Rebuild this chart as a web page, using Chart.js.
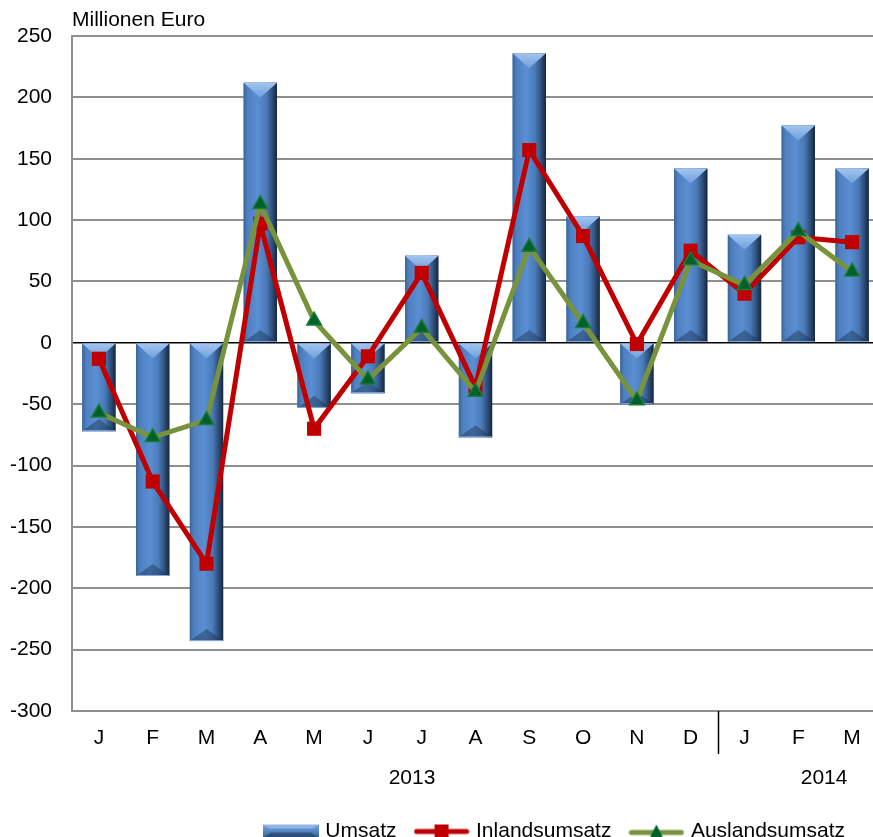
<!DOCTYPE html>
<html><head><meta charset="utf-8">
<script src="https://cdn.jsdelivr.net/npm/chart.js@4.4.1/dist/chart.umd.min.js"></script>
<style>html,body{margin:0;padding:0;background:#fff;overflow:hidden}#wrap{width:889px;height:837px;position:relative}</style>
</head><body><div id="wrap"><canvas id="c"></canvas></div>
<script>
const months = ['J','F','M','A','M','J','J','A','S','O','N','D','J','F','M'];
const years = ['2013','2014'];
const umsatz  = [-72,-190,-243,212,-53,-41,71,-77,236,103,-50,142,88,177,142];
const inland  = [-13,-113,-180,97,-70,-11,57,-36,157,87,-1,75,40,86,82];
const ausland = [-57,-77,-63,113,18,-30,12,-40,78,16,-47,67,47,91,58];
const yTitle = 'Millionen Euro';

const FONT = "'Liberation Sans', Arial, sans-serif";
Chart.defaults.font.family = FONT;
Chart.defaults.font.size = 21;
Chart.defaults.color = '#000';

function makeIcon(kind){
  const c = document.createElement('canvas');
  c.width = 56; c.height = 16;
  const g = c.getContext('2d');
  if (kind === 'bar'){
    const gr = g.createLinearGradient(0,0,0,16);
    gr.addColorStop(0,'#7fa8dc'); gr.addColorStop(0.5,'#5585c4'); gr.addColorStop(1,'#2e5283');
    g.fillStyle = gr; g.fillRect(0,1,56,14);
    g.fillStyle = 'rgba(20,40,70,0.45)';
    g.beginPath(); g.moveTo(0,15); g.lineTo(56,15); g.lineTo(48,9); g.lineTo(8,9); g.closePath(); g.fill();
    g.fillStyle = 'rgba(170,200,240,0.6)';
    g.beginPath(); g.moveTo(0,1); g.lineTo(56,1); g.lineTo(50,5); g.lineTo(6,5); g.closePath(); g.fill();
  } else if (kind === 'red'){
    g.strokeStyle = '#c00000'; g.lineWidth = 5; g.lineCap = 'round';
    g.beginPath(); g.moveTo(3,8); g.lineTo(53,8); g.stroke();
    g.fillStyle = '#c00000'; g.fillRect(21,1,14,14);
  } else {
    g.strokeStyle = '#77933c'; g.lineWidth = 5; g.lineCap = 'round';
    g.beginPath(); g.moveTo(3,9); g.lineTo(53,9); g.stroke();
    g.fillStyle = '#00602a';
    g.beginPath(); g.moveTo(28,1); g.lineTo(35,15); g.lineTo(21,15); g.closePath(); g.fill();
  }
  return c;
}
const icons = [makeIcon('bar'), makeIcon('red'), makeIcon('green')];

const barStyle = {
  id: 'barStyle',
  afterDatasetDraw(chart, args){
    if (args.index !== 0) return;
    const ctx = chart.ctx;
    ctx.save();
    args.meta.data.forEach(el => {
      const p = el.getProps(['x','y','base','width'], true);
      const l = p.x - p.width/2, r = p.x + p.width/2;
      const t = Math.min(p.y, p.base), b = Math.max(p.y, p.base);
      const h = b - t;
      const g = ctx.createLinearGradient(l,0,r,0);
      g.addColorStop(0,'#3a659c'); g.addColorStop(0.12,'#4f80c0');
      g.addColorStop(0.42,'#5a8fd3'); g.addColorStop(0.68,'#4a7ab7');
      g.addColorStop(0.86,'#2d4e79'); g.addColorStop(1,'#16263c');
      ctx.fillStyle = g; ctx.fillRect(l,t,r-l,h);
      const bv = Math.min(p.width*0.45, h/2);
      const gt = ctx.createLinearGradient(0,t,0,t+bv);
      gt.addColorStop(0,'#a3c5f0'); gt.addColorStop(1,'#6e9fdc');
      ctx.fillStyle = gt;
      ctx.beginPath(); ctx.moveTo(l,t); ctx.lineTo(r,t); ctx.lineTo(p.x,t+bv); ctx.closePath(); ctx.fill();
      const bb = Math.min(p.width*0.36, h/2);
      ctx.fillStyle = 'rgba(22,42,72,0.42)';
      ctx.beginPath(); ctx.moveTo(l,b); ctx.lineTo(r,b); ctx.lineTo(p.x,b-bb); ctx.closePath(); ctx.fill();
      ctx.strokeStyle = 'rgba(140,180,230,0.9)'; ctx.lineWidth = 1;
      ctx.beginPath(); ctx.moveTo(l+0.5,b-0.5); ctx.lineTo(r-0.5,b-0.5); ctx.stroke();
    });
    ctx.restore();
  }
};

const extras = {
  id: 'extras',
  afterLayout(chart){
    const lg = chart.legend;
    if (lg){ lg.right -= 23; lg.top += 15; lg.bottom += 15; }
  },
  afterDraw(chart){
    const ctx = chart.ctx, xs = chart.scales.x, a = chart.chartArea;
    const step = xs.getPixelForValue(1) - xs.getPixelForValue(0);
    ctx.save();
    ctx.fillStyle = '#000';
    ctx.font = '21px ' + FONT;
    ctx.textBaseline = 'alphabetic'; ctx.textAlign = 'left';
    ctx.fillText(yTitle, a.left, 26);
    const sx = Math.round((xs.getPixelForValue(11) + xs.getPixelForValue(12))/2) + 0.5;
    ctx.strokeStyle = '#000'; ctx.lineWidth = 1.5;
    ctx.beginPath(); ctx.moveTo(sx, a.bottom); ctx.lineTo(sx, a.bottom + 43); ctx.stroke();
    ctx.textAlign = 'center'; ctx.textBaseline = 'middle';
    ctx.fillText(years[0], xs.getPixelForValue(5) + 0.82*step, 778);
    ctx.fillText(years[1], xs.getPixelForValue(13) + 0.48*step, 778);
    ctx.restore();
  }
};

new Chart(document.getElementById('c'), {
  type: 'bar',
  data: {
    labels: months,
    datasets: [
      { label: 'Umsatz', data: umsatz, backgroundColor: '#4f81bd', borderWidth: 0,
        barPercentage: 0.62, categoryPercentage: 1, order: 3 },
      { type: 'line', label: 'Inlandsumsatz', data: inland, borderColor: '#c00000', borderWidth: 5,
        backgroundColor: '#c00000', pointStyle: 'rect', pointRadius: 10, pointBorderWidth: 0,
        pointBackgroundColor: '#c00000', tension: 0, order: 2 },
      { type: 'line', label: 'Auslandsumsatz', data: ausland, borderColor: '#77933c', borderWidth: 5,
        backgroundColor: '#77933c', pointStyle: 'triangle', pointRadius: 8.5, pointBorderWidth: 1.5,
        pointBackgroundColor: '#00602a', pointBorderColor: '#1a7a3c', tension: 0, order: 1 }
    ]
  },
  options: {
    responsive: true, maintainAspectRatio: false, animation: false,
    layout: { padding: { top: 36, right: 0, left: 0, bottom: 0 } },
    plugins: {
      tooltip: { enabled: false },
      legend: {
        position: 'bottom', align: 'end',
        labels: {
          usePointStyle: true, pointStyleWidth: 48, padding: 21,
          font: { size: 21, family: FONT }, color: '#000',
          generateLabels(chart){
            return chart.data.datasets.map((ds, i) => ({
              text: ds.label, pointStyle: icons[i], datasetIndex: i,
              fillStyle: 'transparent', strokeStyle: 'transparent', lineWidth: 0, hidden: false
            }));
          }
        }
      }
    },
    scales: {
      x: {
        grid: { display: false, drawTicks: true, tickLength: 15 },
        border: { display: false },
        ticks: { padding: 0, font: { size: 21 }, color: '#000', maxRotation: 0, autoSkip: false },
        afterFit(s){ s.height = 74; }
      },
      y: {
        min: -300, max: 250,
        ticks: { stepSize: 50, padding: 20, font: { size: 21 }, color: '#000' },
        grid: {
          drawTicks: false,
          color: c => c.tick && c.tick.value === 0 ? '#000' : '#8f8f8f',
          lineWidth: c => c.tick && c.tick.value === 0 ? 1.5 : 2
        },
        border: { display: true, color: '#8f8f8f', width: 2 },
        afterFit(s){ s.width = 72; }
      }
    }
  },
  plugins: [barStyle, extras]
});
</script></body></html>
